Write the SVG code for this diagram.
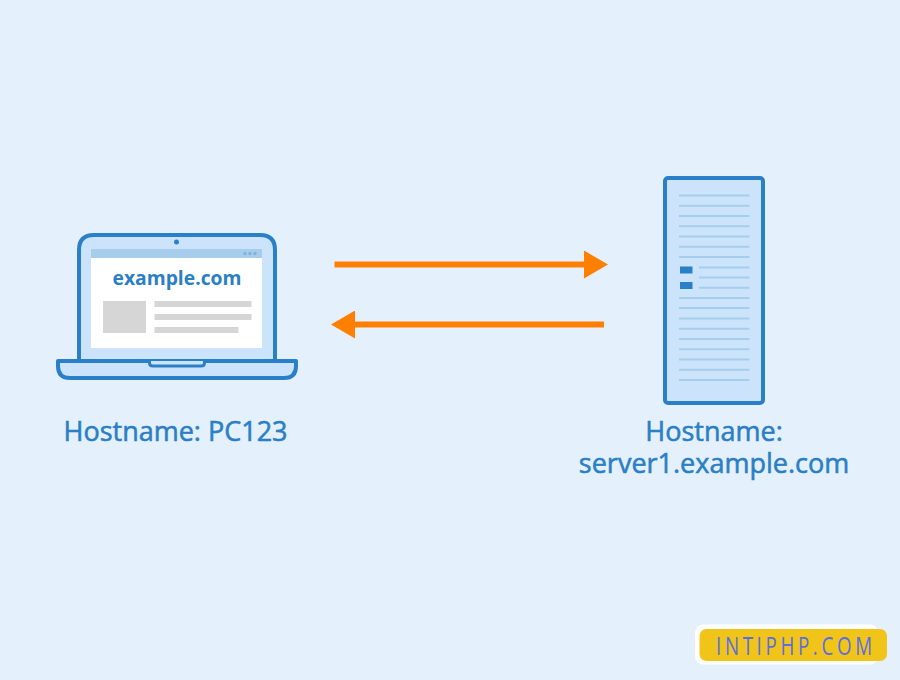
<svg xmlns="http://www.w3.org/2000/svg" width="900" height="680" viewBox="0 0 900 680">
<style>
text{font-family:"Open Sans","Noto Sans",sans-serif}
.lbl{font-size:27px;fill:#2a7fc6;stroke:#2a7fc6;stroke-width:.55;text-anchor:middle;font-weight:400}
.rl{stroke:#a6cdec;stroke-width:2;fill:none}
.gr{fill:#d6d6d6}
.fr{fill:#cbe4fb;stroke:#2a80c8;stroke-width:4;stroke-linejoin:round}
</style>
<defs>
<marker id="ah" markerUnits="userSpaceOnUse" markerWidth="24" markerHeight="28" refX="6" refY="14" orient="auto-start-reverse"><path d="M0 0L24 14L0 28Z" fill="#ff8000"/></marker>
</defs>
<rect width="900" height="680" fill="#e4f1fd"/>
<g id="laptop">
<path class="fr" d="M79 361V250Q79 235 94 235H260Q275 235 275 250V361Z"/>
<circle cx="176.500" cy="242" r="2.500" fill="#2a80c8"/>
<rect x="91" y="249" width="171" height="99" fill="#fff"/>
<rect x="91" y="249" width="171" height="9" fill="#a6cdec"/>
<circle cx="245" cy="253.500" r="1.700" fill="#7fb3de"/><circle cx="250" cy="253.500" r="1.700" fill="#7fb3de"/><circle cx="255" cy="253.500" r="1.700" fill="#7fb3de"/>
<text x="177" y="284.500" font-size="19.300" font-weight="700" fill="#2a7fc6" text-anchor="middle">example.com</text>
<rect class="gr" x="103" y="301" width="43" height="32"/>
<rect class="gr" x="154.500" y="301" width="97" height="6"/>
<rect class="gr" x="154.500" y="314" width="97" height="6"/>
<rect class="gr" x="154.500" y="327" width="84" height="6"/>
<path class="fr" d="M58 361H296V366Q296 378 284 378H70Q58 378 58 366Z"/>
<path d="M149.500 361V363Q149.500 366 153 366H201Q204.500 366 204.500 363V361" fill="#cbe4fb" stroke="#2a80c8" stroke-width="3"/>
<text class="lbl" x="175.500" y="441">Hostname: PC123</text>
</g>
<g id="server">
<rect class="fr" x="665" y="178" width="98" height="225" rx="3"/>
<path class="rl" d="M679 195.500H749.500M679 205.800H749.500M679 216H749.500M679 226.300H749.500M679 236.500H749.500M679 246.800H749.500M679 257H749.500M699 267.500H749.500M699 277.500H749.500M699 287.700H749.500M679 298H749.500M679 308H749.500M679 318.500H749.500M679 328.700H749.500M679 339H749.500M679 349.300H749.500M679 359.500H749.500M679 369.800H749.500M679 380H749.500"/>
<rect x="680" y="266.500" width="12.500" height="7" fill="#2a80c8"/>
<rect x="680" y="282" width="12.500" height="7" fill="#2a80c8"/>
<text class="lbl"><tspan x="714" y="441">Hostname:</tspan><tspan x="714" y="473">server1.example.com</tspan></text>
</g>
<g id="connectors" fill="none" stroke="#ff8000" stroke-width="6">
<path d="M334.500 264.500H590" marker-end="url(#ah)"/>
<path d="M604 324.500H349" marker-end="url(#ah)"/>
</g>
<g id="badge">
<rect x="695" y="624.500" width="183" height="40" rx="8" fill="#fff"/>
<rect x="699.500" y="629" width="187.500" height="32" rx="7" fill="#f0c419"/>
<text transform="translate(716 654.500) scale(0.75 1)" font-size="25" font-weight="400" fill="#5b6ee1" textLength="208" lengthAdjust="spacing">INTIPHP.COM</text>
</g>
</svg>
